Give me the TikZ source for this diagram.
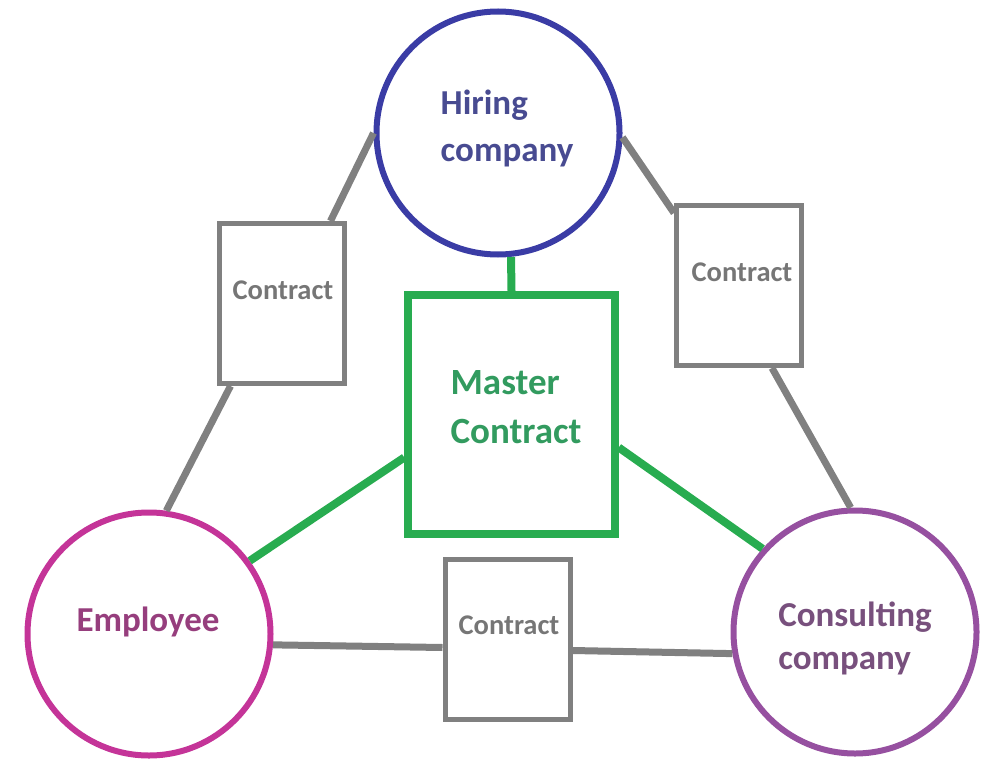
\documentclass[tikz,border=0pt]{standalone}
\usepackage{fontspec}
\setmainfont{Carlito}
\definecolor{hirecol}{RGB}{58,60,165}
\definecolor{hiretext}{RGB}{72,75,145}
\definecolor{mastercol}{RGB}{40,172,80}
\definecolor{mastertext}{RGB}{50,155,95}
\definecolor{empcol}{RGB}{196,52,152}
\definecolor{emptext}{RGB}{150,62,125}
\definecolor{conscol}{RGB}{150,80,160}
\definecolor{constext}{RGB}{120,80,125}
\definecolor{linegray}{RGB}{128,128,128}
\definecolor{textgray}{RGB}{118,118,118}
\begin{document}
\begin{tikzpicture}[x=1pt, y=-1pt,
  party/.style={circle, draw, line width=6pt, minimum size=243pt, inner sep=0pt},
  contractbox/.style={rectangle, draw=linegray, line width=5pt, minimum width=125pt, minimum height=160pt},
  masterbox/.style={rectangle, draw=mastercol, line width=7.5pt, minimum width=207pt, minimum height=239pt},
  bigtxt/.style={font=\fontsize{35}{47}\selectfont\bfseries, align=left},
  smalltxt/.style={font=\fontsize{28.5}{34}\selectfont\bfseries, text=textgray},
  grayline/.style={draw=linegray, line width=7pt},
  greenline/.style={draw=mastercol, line width=8pt}]
\useasboundingbox (0,0) rectangle (992,762);

\node[party, draw=hirecol] (hire) at (498,133) {};
\node[party, draw=empcol] (emp) at (149,634) {};
\node[party, draw=conscol] (cons) at (855,632) {};
\node[masterbox] (master) at (511.5,414.5) {};
\node[contractbox] (cl) at (281.5,303.5) {};
\node[contractbox] (cr) at (739,285.5) {};
\node[contractbox] (cb) at (507.5,639.5) {};

\node[bigtxt, text=hiretext] (hiret) at (507,128) {Hiring\\company};
\node[bigtxt, text=emptext] (empt) at (148,622) {Employee};
\node[bigtxt, text=constext, font=\fontsize{35}{43}\selectfont\bfseries] (const) at (855,638) {Consulting\\company};
\node[bigtxt, text=mastertext, font=\fontsize{37}{49}\selectfont\bfseries] (mastert) at (516,407) {Master\\Contract};
\node[smalltxt] (clt) at (283,290) {Contract};
\node[smalltxt] (crt) at (742,272) {Contract};
\node[smalltxt] (cbt) at (509,625) {Contract};

\draw[grayline] (hire.180) -- ([xshift=-16pt]cl.north east);
\draw[grayline] ([xshift=14pt]cl.south west) -- (emp.82);
\draw[grayline] (hire.-2) -- ([yshift=-10pt]cr.north west);
\draw[grayline] ([xshift=33pt]cr.south) -- (cons.92);
\draw[grayline] (emp.-5) -- ([yshift=-8pt]cb.west);
\draw[grayline] ([yshift=-11pt]cb.east) -- (cons.190);

\draw[greenline] (master.north) -- (hire.276);
\draw[greenline] ([yshift=-43pt]master.west) -- (emp.36);
\draw[greenline] ([yshift=-33pt]master.east) -- (cons.138);
\end{tikzpicture}
\end{document}
